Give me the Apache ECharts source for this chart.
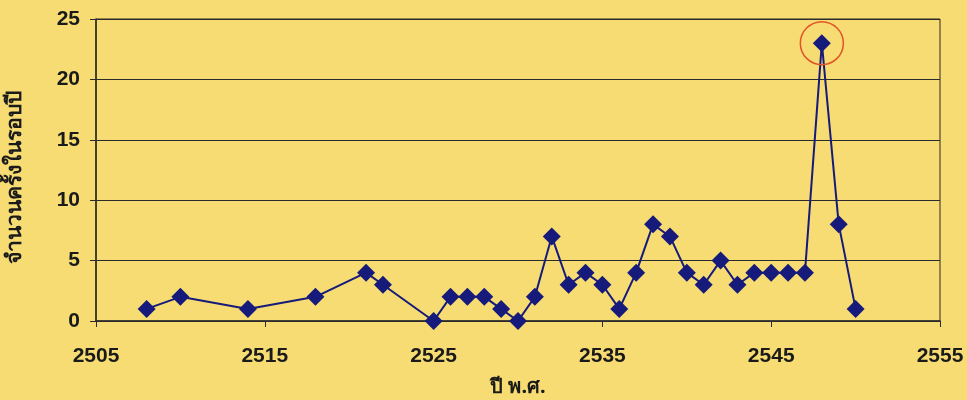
<!DOCTYPE html>
<html>
<head>
<meta charset="utf-8">
<script src="https://cdn.jsdelivr.net/npm/echarts@6/dist/echarts.min.js"></script>
<style>
  html, body { margin: 0; padding: 0; background: #F6DC72; }
  #chart { width: 967px; height: 400px; }
</style>
</head>
<body>
<div id="chart"></div>
<script>
// Years (Buddhist Era) and number of occurrences per year
const years  = [2508, 2510, 2514, 2518, 2521, 2522, 2525, 2526, 2527, 2528, 2529, 2530,
                2531, 2532, 2533, 2534, 2535, 2536, 2537, 2538, 2539, 2540, 2541, 2542,
                2543, 2544, 2545, 2546, 2547, 2548, 2549, 2550];
const counts = [1, 2, 1, 2, 4, 3, 0, 2, 2, 2, 1, 0,
                2, 7, 3, 4, 3, 1, 4, 8, 7, 4, 3, 5,
                3, 4, 4, 4, 4, 23, 8, 1];
const xTicks = [2505, 2515, 2525, 2535, 2545, 2555];
const yTicks = [0, 5, 10, 15, 20, 25];
const peakYear = 2548;

const points = years.map((y, i) => [y, counts[i]]);
const peakValue = counts[years.indexOf(peakYear)];

const chart = echarts.init(document.getElementById('chart'));
const labelFont = { fontFamily: 'Liberation Sans, Arial, sans-serif', fontWeight: 'bold', fontSize: 21, color: '#1a1a1a' };

chart.setOption({
  backgroundColor: '#F6DC72',
  animation: false,
  grid: { left: 96, right: 27, top: 19, bottom: 79, show: true, borderColor: '#2b2b2b', borderWidth: 1, outerBoundsMode: 'none' },
  xAxis: {
    type: 'value',
    min: xTicks[0], max: xTicks[xTicks.length - 1], interval: 10,
    name: 'ปี พ.ศ.', nameLocation: 'middle', nameGap: 56,
    nameTextStyle: { fontFamily: 'Noto Sans, sans-serif', fontWeight: 'bold', fontSize: 20, color: '#1a1a1a' },
    axisLine: { show: true, lineStyle: { color: '#2b2b2b', width: 1.5 } },
    axisTick: { show: true, inside: false, length: 6, lineStyle: { color: '#2b2b2b' } },
    splitLine: { show: false },
    axisLabel: Object.assign({ margin: 25, formatter: v => String(v) }, labelFont)
  },
  yAxis: {
    type: 'value',
    min: yTicks[0], max: yTicks[yTicks.length - 1], interval: 5,
    name: 'จำนวนครั้งในรอบปี', nameLocation: 'middle', nameGap: 70, nameRotate: 90,
    nameTextStyle: { fontFamily: 'Noto Sans, sans-serif', fontWeight: 'bold', fontSize: 21, color: '#1a1a1a', padding: [0, 14, 0, 0] },
    axisLine: { show: true, lineStyle: { color: '#2b2b2b', width: 1.5 } },
    axisTick: { show: true, inside: false, length: 6, lineStyle: { color: '#2b2b2b' } },
    splitLine: { show: true, lineStyle: { color: '#2b2b2b', width: 1.2 } },
    axisLabel: Object.assign({ margin: 16, formatter: v => String(v) }, labelFont)
  },
  series: [{
    type: 'line',
    data: points,
    symbol: 'diamond',
    symbolSize: 18,
    itemStyle: { color: '#161a7a' },
    lineStyle: { color: '#161a7a', width: 2 },
    markPoint: {
      symbol: 'circle',
      symbolSize: 43,
      silent: true,
      itemStyle: { color: 'rgba(0,0,0,0)', borderColor: '#E0562A', borderWidth: 1.5 },
      label: { show: false },
      data: [{ coord: [peakYear, peakValue] }]
    }
  }]
});
</script>
</body>
</html>
